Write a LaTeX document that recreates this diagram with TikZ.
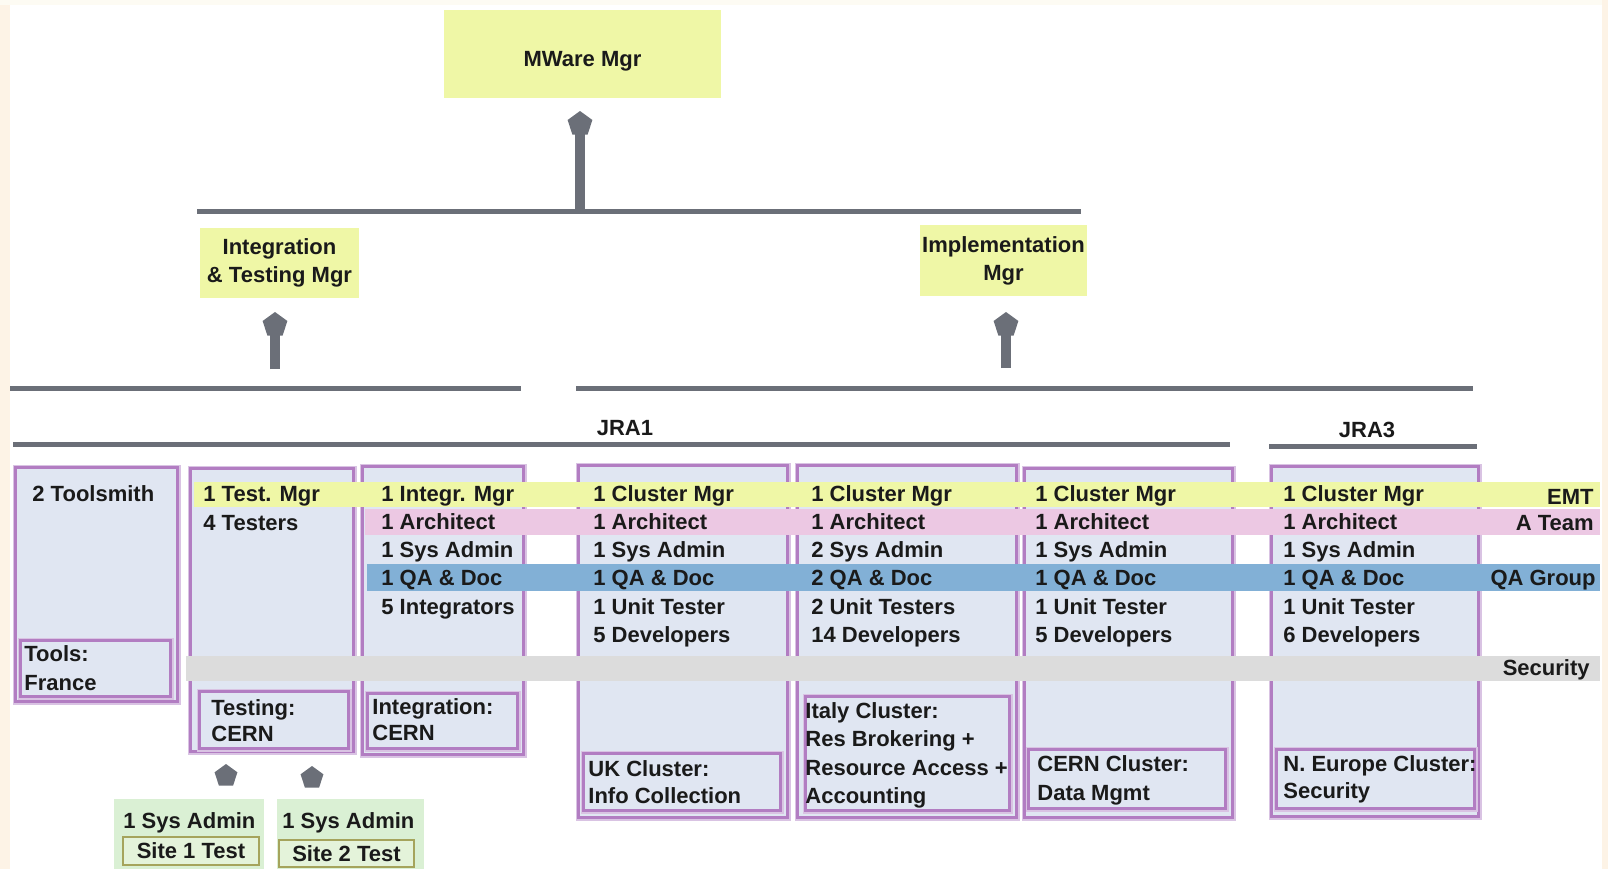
\documentclass[tikz,border=0pt]{standalone}
\usepackage{fontspec}
\setmainfont{Liberation Sans}
\usetikzlibrary{shapes.geometric}
\definecolor{boxfill}{HTML}{E0E6F2}
\definecolor{boxdraw}{HTML}{B27DC2}
\definecolor{boxhalo}{HTML}{D9C3E3}
\definecolor{bandyellow}{HTML}{EFF7A6}
\definecolor{bandpink}{HTML}{ECC8E3}
\definecolor{bandblue}{HTML}{82B0D6}
\definecolor{bandgray}{HTML}{DCDCDC}
\definecolor{linegray}{HTML}{6B6F78}
\definecolor{sitegreen}{HTML}{DAF0D4}
\definecolor{siteinner}{HTML}{E4F3DA}
\definecolor{siteolive}{HTML}{A5A45C}
\definecolor{txt}{HTML}{1A1A1A}
\definecolor{creamside}{HTML}{FDF3E6}
\definecolor{creamtop}{HTML}{FDFBF3}
\begin{document}
\begin{tikzpicture}[x=0.5pt,y=-0.5pt,
  every node/.style={font=\fontsize{11}{14}\selectfont\bfseries, text=txt},
  hdr/.style={fill=bandyellow, inner sep=0, align=center},
  colbox/.style={draw=boxdraw, line width=1.5pt, fill=boxfill, inner sep=0, anchor=north west,
                 preaction={draw=boxhalo, line width=3pt}},
  row/.style={anchor=base west, inner sep=0},
  tag/.style={anchor=base east, inner sep=0},
  hline/.style={draw=linegray, line width=2.5pt},
  shaft/.style={draw=linegray, line width=5pt},
  pent/.style={regular polygon, regular polygon sides=5, fill=linegray, inner sep=0, minimum size=13pt},
  sitebox/.style={draw=siteolive, line width=1pt, fill=siteinner, inner sep=0},
]
\useasboundingbox (0,0) rectangle (1608,869);
% background and margins
\fill[white] (0,0) rectangle (1608,869);
\fill[creamtop] (0,0) rectangle (1608,5);
\fill[creamside] (0,5) rectangle (10,869);
\fill[creamside] (1602,0) rectangle (1608,869);

% manager boxes
\node[hdr, minimum width=138.5pt, minimum height=44pt, text height=12pt, text depth=0pt] (mware) at (582.5,54) {MWare Mgr};
\node[hdr, minimum width=79.5pt, minimum height=35pt] (itm) at (279.5,263) {Integration\\\& Testing Mgr};
\node[hdr, minimum width=83.5pt, minimum height=35.5pt] (imm) at (1003.5,260.5) {Implementation\\Mgr};

% horizontal lines
\coordinate (t1) at (197,211); \coordinate (t2) at (1081,211);
\draw[hline] (t1) -- (t2);
\coordinate (l1) at (10,388); \coordinate (l2) at (521,388);
\draw[hline] (l1) -- (l2);
\coordinate (r1) at (576,388); \coordinate (r2) at (1473,388);
\draw[hline] (r1) -- (r2);
\coordinate (j1) at (13,444); \coordinate (j2) at (1230,444);
\draw[hline] (j1) -- (j2);
\coordinate (k1) at (1269,446); \coordinate (k2) at (1477,446);
\draw[hline] (k1) -- (k2);
\node (jra1) at (625,428) {JRA1};
\node (jra3) at (1367,430) {JRA3};

% arrows
\node[pent] (h0) at (580,124) {};
\coordinate (s0) at (580,209);
\draw[shaft] (s0) -- (h0.center);
\node[pent] (h1) at (275,325) {};
\coordinate (s1) at (275,369);
\draw[shaft] (s1) -- (h1.center);
\node[pent] (h2) at (1006,325) {};
\coordinate (s2) at (1006,368);
\draw[shaft] (s2) -- (h2.center);

% column boxes
\node[colbox, minimum width=81pt, minimum height=117pt] (tool) at (14,466) {};
\node[colbox, minimum width=81.5pt, minimum height=141.5pt] (test) at (189,467) {};
\node[colbox, minimum width=80.5pt, minimum height=144pt] (integ) at (361,465) {};
\node[colbox, minimum width=104.5pt, minimum height=176pt] (uk) at (577,464) {};
\node[colbox, minimum width=109.5pt, minimum height=176pt] (italy) at (796,464) {};
\node[colbox, minimum width=104pt, minimum height=174.5pt] (cern) at (1023,467) {};
\node[colbox, minimum width=103.5pt, minimum height=175pt] (jra3box) at (1270,465) {};

% inner location boxes
\node[colbox, minimum width=75pt, minimum height=28pt] (toolin) at (19,639) {};
\node[colbox, minimum width=74.5pt, minimum height=28.5pt] (testin) at (198,690) {};
\node[colbox, minimum width=75pt, minimum height=27.5pt] (integin) at (366,692) {};
\node[colbox, minimum width=98.5pt, minimum height=28.5pt] (ukin) at (582,752) {};
\node[colbox, minimum width=102pt, minimum height=57pt] (italyin) at (804,695) {};
\node[colbox, minimum width=98.5pt, minimum height=29.5pt] (cernin) at (1027,748) {};
\node[colbox, minimum width=99pt, minimum height=29.5pt] (jra3in) at (1275,748) {};

% cross-cutting bands
\fill[bandyellow] (194,482) rectangle (1600,507);
\fill[bandpink] (365,509) rectangle (1600,535);
\fill[bandblue] (367,564) rectangle (1600,591);
\fill[bandgray] (186,656) rectangle (1600,681);
\node[tag] (emt) at (1594,504) {EMT};
\node[tag] (ateam) at (1594,530) {A Team};
\node[tag] (qagroup) at (1596,585) {QA Group};
\node[tag] (security) at (1590,675) {Security};

% column contents
\node[row] (tool-r1) at (32,501) {2 Toolsmith};
\node[row] (test-r1) at (203,501) {1 Test. Mgr};
\node[row] (test-r2) at (203,530) {4 Testers};
\foreach \t [count=\i] in {1 Integr. Mgr,1 Architect,1 Sys Admin,{1 QA \& Doc},5 Integrators}
  \node[row] (integ-r\i) at (381,{501+28.3*(\i-1)}) {\t};
\foreach \t [count=\i] in {1 Cluster Mgr,1 Architect,1 Sys Admin,{1 QA \& Doc},1 Unit Tester,5 Developers}
  \node[row] (uk-r\i) at (593,{501+28.3*(\i-1)}) {\t};
\foreach \t [count=\i] in {1 Cluster Mgr,1 Architect,2 Sys Admin,{2 QA \& Doc},2 Unit Testers,14 Developers}
  \node[row] (italy-r\i) at (811,{501+28.3*(\i-1)}) {\t};
\foreach \t [count=\i] in {1 Cluster Mgr,1 Architect,1 Sys Admin,{1 QA \& Doc},1 Unit Tester,5 Developers}
  \node[row] (cern-r\i) at (1035,{501+28.3*(\i-1)}) {\t};
\foreach \t [count=\i] in {1 Cluster Mgr,1 Architect,1 Sys Admin,{1 QA \& Doc},1 Unit Tester,6 Developers}
  \node[row] (jra3-r\i) at (1283,{501+28.3*(\i-1)}) {\t};

% location texts
\node[row] (toolin-1) at (24,661) {Tools:};
\node[row] (toolin-2) at (24,690) {France};
\node[row] (testin-1) at (211,715) {Testing:};
\node[row] (testin-2) at (211,741) {CERN};
\node[row] (integin-1) at (372,714) {Integration:};
\node[row] (integin-2) at (372,740) {CERN};
\node[row] (ukin-1) at (588,776) {UK Cluster:};
\node[row] (ukin-2) at (588,803) {Info Collection};
\node[row] (italyin-1) at (805,718) {Italy Cluster:};
\node[row] (italyin-2) at (805,746) {Res Brokering +};
\node[row] (italyin-3) at (805,775) {Resource Access +};
\node[row] (italyin-4) at (805,803) {Accounting};
\node[row] (cernin-1) at (1037,771) {CERN Cluster:};
\node[row] (cernin-2) at (1037,800) {Data Mgmt};
\node[row] (jra3in-1) at (1283,771) {N. Europe Cluster:};
\node[row] (jra3in-2) at (1283,798) {Security};

% test sites
\node[pent, minimum size=12pt] (d1) at (226,776) {};
\node[pent, minimum size=12pt] (d2) at (312,778) {};
\node[fill=sitegreen, inner sep=0, anchor=north west, minimum width=75pt, minimum height=35pt] (site1) at (114,799) {};
\node[fill=sitegreen, inner sep=0, anchor=north west, minimum width=73.5pt, minimum height=35pt] (site2) at (277,799) {};
\node[row] (site1a) at (123,828) {1 Sys Admin};
\node[row] (site2a) at (282,828) {1 Sys Admin};
\node[sitebox, minimum width=68pt, minimum height=14pt] (site1b) at (191,851) {Site 1 Test};
\node[sitebox, minimum width=67.5pt, minimum height=13.5pt] (site2b) at (346.5,853.5) {Site 2 Test};
\end{tikzpicture}
\end{document}
